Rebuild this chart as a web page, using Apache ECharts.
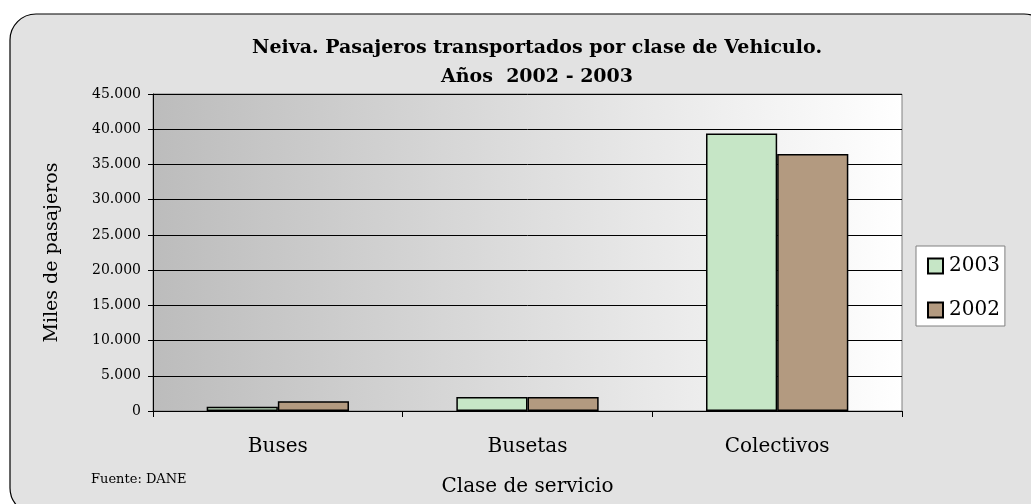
<!DOCTYPE html>
<html>
<head>
<meta charset="utf-8">
<script src="https://cdn.jsdelivr.net/npm/echarts@6/dist/echarts.min.js"></script>
<style>
  html, body { margin: 0; padding: 0; background: #ffffff; }
  #chart { width: 1031px; height: 504px; }
</style>
</head>
<body>
<div id="chart"></div>
<script>
// datos
let categorias = ['Buses', 'Busetas', 'Colectivos'];
let pasajeros2003 = [600, 2000, 39400];
let pasajeros2002 = [1400, 2000, 36500];
let anios = ['2003', '2002'];

let fuente = 'DejaVu Serif';

let chart = echarts.init(document.getElementById('chart'));

let option = {
    backgroundColor: '#ffffff',
    animation: false,
    graphic: [
        {
            type: 'rect',
            z: -10,
            shape: { x: 10, y: 14, width: 1040, height: 500, r: 26 },
            style: { fill: '#e2e2e2', stroke: '#000000', lineWidth: 1.2 }
        },
        {
            type: 'text',
            left: 91,
            top: 473,
            style: { text: 'Fuente: DANE', font: '13px "DejaVu Serif"', fill: '#000' }
        }
    ],
    title: {
        text: 'Neiva. Pasajeros transportados por clase de Vehiculo.\nAños  2002 - 2003',
        left: 532,
        textAlign: 'center',
        top: 29,
        textStyle: {
            fontFamily: fuente,
            fontWeight: 'bold',
            fontSize: 19,
            lineHeight: 29,
            color: '#000'
        }
    },
    legend: {
        orient: 'vertical',
        left: 916,
        top: 246,
        data: anios,
        icon: 'rect',
        backgroundColor: '#ffffff',
        borderColor: '#808080',
        borderWidth: 1,
        padding: [10, 5, 6, 11],
        itemWidth: 15,
        itemHeight: 15,
        itemGap: 24,
        textStyle: { fontFamily: fuente, fontSize: 20, color: '#000', padding: [0, 0, 0, 1] }
    },
    grid: {
        left: 153,
        right: 129,
        top: 94,
        bottom: 93,
        show: true,
        borderColor: '#808080',
        borderWidth: 1,
        backgroundColor: {
            type: 'linear', x: 0, y: 0, x2: 1, y2: 0,
            colorStops: [
                { offset: 0, color: '#bcbcbc' },
                { offset: 1, color: '#ffffff' }
            ]
        }
    },
    xAxis: {
        type: 'category',
        data: categorias,
        name: 'Clase de servicio',
        nameLocation: 'middle',
        nameGap: 66,
        nameTextStyle: { fontFamily: fuente, fontSize: 20, color: '#000' },
        axisLine: { lineStyle: { color: '#000', width: 1 } },
        axisTick: { show: true, length: 6, inside: false, lineStyle: { color: '#000' } },
        axisLabel: { fontFamily: fuente, fontSize: 20, color: '#000', margin: 26 }
    },
    yAxis: {
        type: 'value',
        min: 0,
        max: 45000,
        interval: 5000,
        name: 'Miles de pasajeros',
        nameLocation: 'middle',
        nameGap: 91,
        nameTextStyle: { fontFamily: fuente, fontSize: 19, color: '#000' },
        axisLine: { show: true, lineStyle: { color: '#000', width: 1 } },
        axisTick: { show: true, length: 5, lineStyle: { color: '#000' } },
        splitLine: { lineStyle: { color: '#000', width: 1 } },
        axisLabel: {
            fontFamily: fuente,
            fontSize: 14,
            color: '#000',
            margin: 12,
            formatter: function(v) {
                return v.toString().replace(/\B(?=(\d{3})+(?!\d))/g, '.');
            }
        }
    },
    series: [
        {
            name: anios[0],
            type: 'bar',
            data: pasajeros2003,
            barGap: '0%',
            barCategoryGap: '43%',
            itemStyle: { color: '#c6e6c6', borderColor: '#000', borderWidth: 1.5 }
        },
        {
            name: anios[1],
            type: 'bar',
            data: pasajeros2002,
            itemStyle: { color: '#b39a80', borderColor: '#000', borderWidth: 1.5 }
        }
    ]
};

chart.setOption(option);
</script>
</body>
</html>
